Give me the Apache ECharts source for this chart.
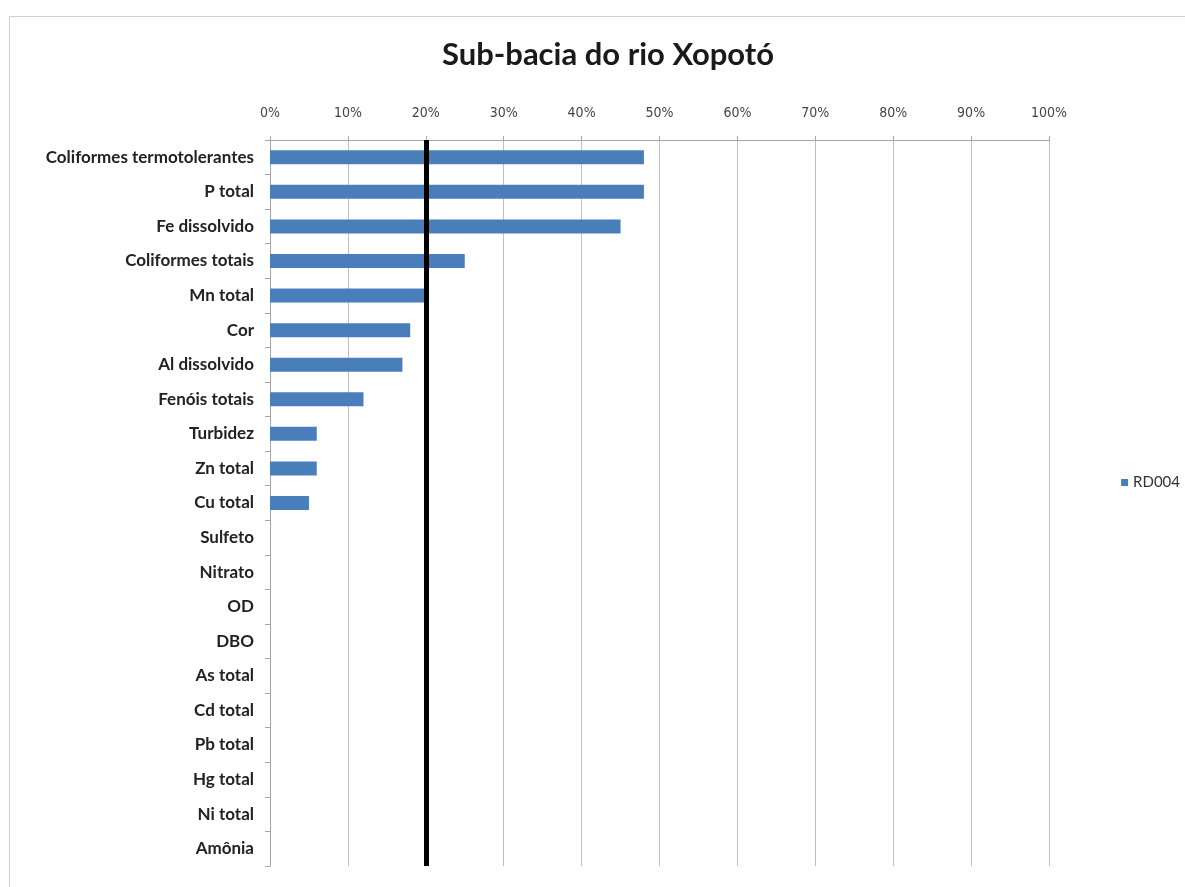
<!DOCTYPE html>
<html>
<head>
<meta charset="utf-8">
<script src="https://cdn.jsdelivr.net/npm/echarts@6/dist/echarts.min.js"></script>
<style>
  html, body { margin: 0; padding: 0; background: #fff; }
  #chart { width: 1185px; height: 887px; }
</style>
</head>
<body>
<div id="chart"></div>
<script>
// parâmetros (ordem de cima para baixo)
const categories = [
  'Coliformes termotolerantes', 'P total', 'Fe dissolvido', 'Coliformes totais',
  'Mn total', 'Cor', 'Al dissolvido', 'Fenóis totais', 'Turbidez', 'Zn total',
  'Cu total', 'Sulfeto', 'Nitrato', 'OD', 'DBO', 'As total', 'Cd total',
  'Pb total', 'Hg total', 'Ni total', 'Amônia'
];
// % de violação, estação RD004
const rd004 = [48, 48, 45, 25, 20, 18, 17, 12, 6, 6, 5, 0, 0, 0, 0, 0, 0, 0, 0, 0, 0];
const refLine = 20;

const myChart = echarts.init(document.getElementById('chart'));

const option = {
  animation: false,
  title: {
    text: 'Sub-bacia do rio Xopotó',
    left: 603,
    textAlign: 'center',
    top: 34,
    textStyle: {
      fontFamily: 'Lato',
      fontSize: 31,
      fontWeight: 'bold',
      color: '#1a1a1a'
    }
  },
  // moldura do gráfico
  graphic: [{
    type: 'rect',
    shape: { x: 9.5, y: 16.5, width: 1200, height: 900 },
    style: { fill: 'none', stroke: '#d0d0d0', lineWidth: 1 },
    silent: true
  }],
  legend: {
    data: ['RD004'],
    right: 0,
    top: 470,
    icon: 'rect',
    itemWidth: 7,
    itemHeight: 7,
    itemGap: 5,
    textStyle: { fontFamily: 'Lato', fontSize: 15, color: '#333' }
  },
  grid: {
    left: 270,
    right: 136,
    top: 140,
    bottom: 21
  },
  xAxis: {
    type: 'value',
    position: 'top',
    min: 0,
    max: 100,
    interval: 10,
    axisLine: { show: true, lineStyle: { color: '#a6a6a6' } },
    axisTick: { show: true, length: 4, lineStyle: { color: '#a6a6a6' } },
    axisLabel: {
      formatter: '{value}%',
      margin: 20,
      fontFamily: 'DejaVu Sans Condensed',
      fontSize: 14,
      color: '#444'
    },
    splitLine: { show: true, lineStyle: { color: '#bfbfbf' } }
  },
  yAxis: {
    type: 'category',
    data: categories,
    inverse: true,
    axisLine: { show: true, lineStyle: { color: '#a6a6a6' } },
    axisTick: { show: true, length: 5, lineStyle: { color: '#a6a6a6' } },
    axisLabel: {
      margin: 16,
      fontFamily: 'Lato',
      fontSize: 17,
      fontWeight: 'bold',
      color: '#222'
    }
  },
  series: [{
    name: 'RD004',
    type: 'bar',
    data: rd004,
    barWidth: 14,
    itemStyle: { color: '#4a7ebb' },
    markLine: {
      silent: true,
      symbol: ['none', 'none'],
      label: { show: false },
      lineStyle: { color: '#000', width: 5, type: 'solid' },
      data: [{ xAxis: refLine }]
    }
  }]
};

myChart.setOption(option);
</script>
</body>
</html>
